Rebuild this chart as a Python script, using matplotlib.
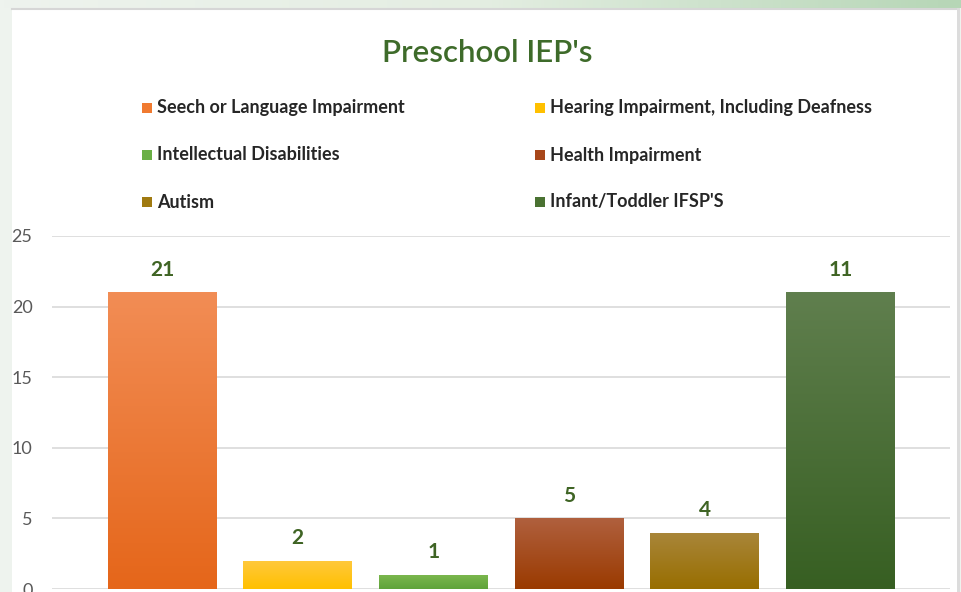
import matplotlib
matplotlib.use("Agg")
import matplotlib.pyplot as plt
import numpy as np
from matplotlib.patches import Rectangle
from matplotlib.colors import LinearSegmentedColormap

# ---- data ----
categories = ["Seech or Language Impairment", "Hearing Impairment, Including Deafness",
              "Intellectual Disabilities", "Health Impairment",
              "Autism", "Infant/Toddler IFSP'S"]
values = [21, 2, 1, 5, 4, 21]
value_labels = ["21", "2", "1", "5", "4", "11"]
y_ticks = [0, 5, 10, 15, 20, 25]
title = "Preschool IEP's"

# ---- styles ----
top_colors = ["#F28D55", "#FFC93E", "#7DB84E", "#B0603E", "#A9863A", "#607F4E"]
bot_colors = ["#E5661A", "#FFC000", "#5EA33A", "#9A3A00", "#986E00", "#375F22"]
legend_colors = ["#F07A30", "#FFC000", "#6AAF45", "#A8471A", "#A07A10", "#4A7232"]

W, H = 961, 592
fig = plt.figure(figsize=(W / 100, H / 100), dpi=100)
fig.patch.set_facecolor("#EEF3EE")
plt.rcParams["font.family"] = ["Lato", "DejaVu Sans"]

# background decorations
bgax = fig.add_axes([0, 0, 1, 1])
bgax.set_xlim(0, W)
bgax.set_ylim(H, 0)
bgax.axis("off")
grad = np.linspace(0, 1, 256).reshape(1, -1)
cmap_top = LinearSegmentedColormap.from_list("t", ["#EEF3EE", "#E4EEE2", "#B6D6B6"])
bgax.imshow(grad, extent=[0, W, 8, 0], cmap=cmap_top, aspect="auto", zorder=0)
bgax.add_patch(Rectangle((12, 8), 946, H, facecolor="white", edgecolor="none", zorder=1))
bgax.plot([12, 958], [8.5, 8.5], color="#D6D6D6", lw=1.5, zorder=2)
bgax.add_patch(Rectangle((957, 8), 3, H, facecolor="#DCDCDC", edgecolor="none", zorder=2))
bgax.set_xlim(0, W)
bgax.set_ylim(H, 0)

# title
fig.text(487 / W, 1 - 53 / H, title, ha="center", va="center",
         fontsize=22.5, fontweight="semibold", color="#3E6B2A", family=["Lato", "DejaVu Sans"])

# legend (manual, 3 rows x 2 columns)
col_x = [147, 540]
row_y = [108, 155, 202]
for i, (lab, c) in enumerate(zip(categories, legend_colors)):
    r, cc = divmod(i, 2)
    mx, my = col_x[cc], row_y[r]
    bgax.add_patch(Rectangle((mx - 5, my - 5), 10, 10, facecolor=c, edgecolor="none", zorder=3))
    bgax.text(mx + 10, my, lab, ha="left", va="center", fontsize=13,
              fontweight="bold", color="#262626", zorder=3)

# main axes
ax = fig.add_axes([52 / W, 3 / H, (950 - 52) / W, (589 - 236) / H])
ax.set_facecolor("none")
x = np.arange(len(categories))
bars = ax.bar(x, values, width=0.8, color="none", edgecolor="none", zorder=3)
for b, tc, bc in zip(bars, top_colors, bot_colors):
    cm = LinearSegmentedColormap.from_list("g", [bc, tc])
    g = np.linspace(0, 1, 256).reshape(-1, 1)
    bx, by = b.get_x(), b.get_y()
    im = ax.imshow(g, extent=[bx, bx + b.get_width(), by, by + b.get_height()],
                   origin="lower", cmap=cm, aspect="auto", zorder=3)
    im.set_clip_path(b)

for b, lab in zip(bars, value_labels):
    ax.annotate(lab, (b.get_x() + b.get_width() / 2, b.get_height()),
                xytext=(0, 9), textcoords="offset points", ha="center", va="bottom",
                fontsize=15, fontweight="bold", color="#3F6424")

ax.set_xlim(-0.81, 5.807)
ax.set_ylim(0, 25)
ax.set_yticks(y_ticks)
ax.set_xticks([])
ax.yaxis.grid(True, color="#D9D9D9", lw=1.2, zorder=0)
ax.set_axisbelow(True)
for s in ax.spines.values():
    s.set_visible(False)
ax.tick_params(axis="y", length=0, pad=14, labelsize=13, labelcolor="#595959")
for t in ax.get_yticklabels():
    t.set_family(["Lato", "DejaVu Sans"])

fig.savefig("out.png", dpi=100, facecolor=fig.get_facecolor())
